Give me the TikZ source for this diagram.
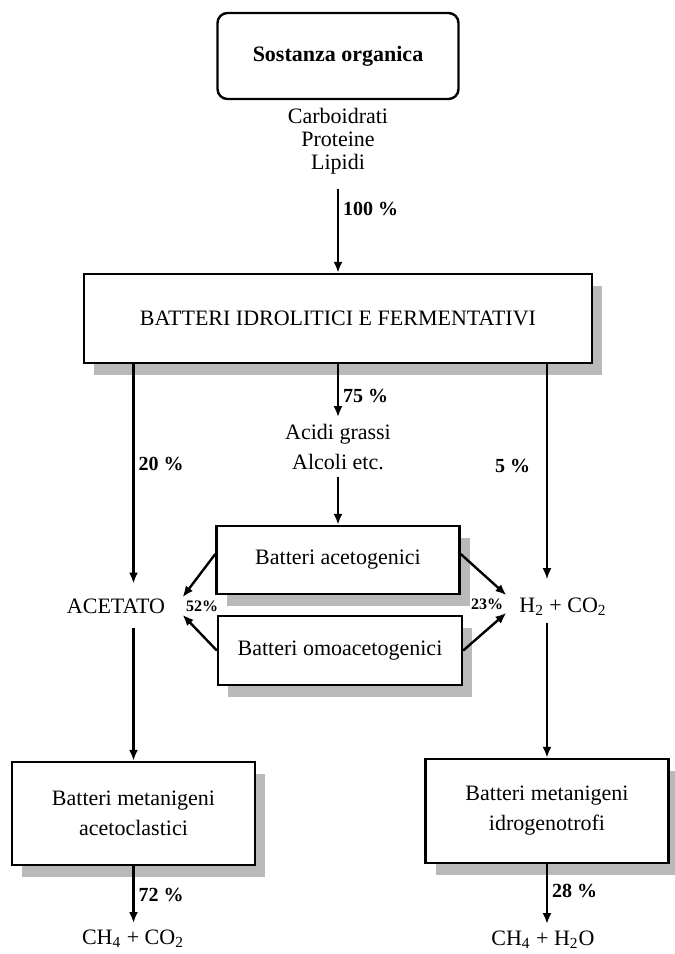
\documentclass[tikz,border=0pt]{standalone}
\usepackage{fontspec}
\setmainfont{Liberation Serif}
\usetikzlibrary{arrows.meta,positioning,shadows}
\tikzset{
  txt/.style={align=center, font=\fontsize{11}{13}\selectfont},
  stagebox/.style={draw, line width=1.2pt, fill=white, align=center, inner sep=2pt,
    font=\fontsize{11}{15}\selectfont,
    drop shadow={shadow xshift=5pt, shadow yshift=-6pt, fill=gray!55, opacity=1}},
  startbox/.style={draw, line width=1.2pt, fill=white, rounded corners=5pt, align=center,
    font=\fontsize{11}{13}\selectfont\bfseries},
  pct/.style={font=\fontsize{10}{12}\selectfont\bfseries, inner sep=2pt},
  smallpct/.style={font=\fontsize{8}{10}\selectfont\bfseries, inner sep=1.5pt},
  arrow/.style={-{Latex[length=5.5pt,width=4.5pt]}, line width=1.2pt},
  thinarrow/.style={-{Latex[length=5.5pt,width=4.5pt]}, line width=0.8pt}
}
\begin{document}
\begin{tikzpicture}[x=0.5pt, y=-0.5pt]
  \useasboundingbox (0,0) rectangle (675,954);

  % upper part
  \node[startbox, minimum width=120.5pt, minimum height=43pt] (org) at (338,56) {Sostanza organica};
  \node[txt, font=\fontsize{11}{11.5}\selectfont] (comp) at (338,141) {Carboidrati\\Proteine\\Lipidi};
  \node[stagebox, minimum width=254pt, minimum height=44.5pt] (idro) at (338,318.5) {BATTERI IDROLITICI E FERMENTATIVI};
  \node[txt, font=\fontsize{11}{15}\selectfont] (acidi) at (338,447) {Acidi grassi\\Alcoli etc.};

  % acetogenesis
  \node[stagebox, minimum width=121.5pt, minimum height=34pt] (aceto) at (338,560) {Batteri acetogenici};
  \node[stagebox, minimum width=122pt, minimum height=34.5pt] (omo) at (340,650.5) {Batteri omoacetogenici};
  \node[txt] (acet) at (116,606) {ACETATO};
  \node[smallpct] (p52) at (202,606) {52\%};
  \node[smallpct] (p23) at (487,604) {23\%};
  \node[txt] (h2) at (563,607) {H\textsubscript{2} + CO\textsubscript{2}};

  % methanogenesis
  \node[stagebox, minimum width=121.5pt, minimum height=51.5pt] (metA) at (133.5,813.5) {Batteri metanigeni\\acetoclastici};
  \node[stagebox, minimum width=121.5pt, minimum height=52pt] (metH) at (547,811) {Batteri metanigeni\\idrogenotrofi};
  \node[txt] (ch4a) at (133,939) {CH\textsubscript{4} + CO\textsubscript{2}};
  \node[txt] (ch4b) at (543,940) {CH\textsubscript{4} + H\textsubscript{2}O};

  % connectors
  \draw[arrow, shorten <=4pt] (comp.south) -- node[pct, right, pos=0.3] {100 \%} (idro.north);
  \draw[arrow] (idro.south) -- node[pct, right, pos=0.6] {75 \%} (acidi.north);
  \draw[arrow] (acidi.south) -- (aceto.north);
  \draw[arrow, shorten >=4pt] (idro.south -| metA.north) -- node[pct, right, pos=0.44] {20 \%} (acet.north -| metA.north);
  \draw[thinarrow, shorten >=6pt] (idro.south -| metH.north) -- node[pct, left, pos=0.45, xshift=-6pt] {5 \%} (h2.north -| metH.north);
  \draw[arrow] ([yshift=3pt]aceto.west) -- (p52.north west);
  \draw[arrow] (omo.west) -- (p52.south west);
  \draw[arrow] ([yshift=3pt]aceto.east) -- (p23.north east);
  \draw[arrow] (omo.east) -- (p23.south east);
  \draw[arrow, shorten <=4pt] (acet.south -| metA.north) -- (metA.north);
  \draw[arrow] (h2.south -| metH.north) -- (metH.north);
  \draw[arrow] (metA.south) -- node[pct, right, pos=0.5] {72 \%} (metA.south |- ch4a.north);
  \draw[arrow] (metH.south) -- node[pct, right, pos=0.45] {28 \%} (metH.south |- ch4b.north);
\end{tikzpicture}
\end{document}
